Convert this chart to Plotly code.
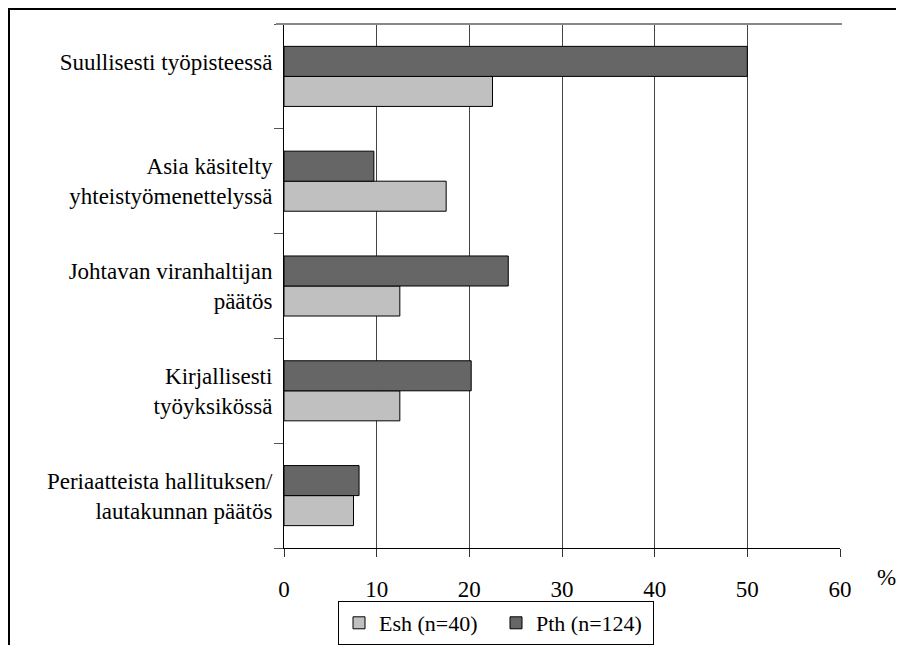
import plotly.graph_objects as go

categories = [
    "Suullisesti työpisteessä<br>\u00a0",
    "Asia käsitelty<br>yhteistyömenettelyssä",
    "Johtavan viranhaltijan<br>päätös",
    "Kirjallisesti<br>työyksikössä",
    "Periaatteista hallituksen/<br>lautakunnan päätös",
]
esh_values = [22.5, 17.5, 12.5, 12.5, 7.5]
pth_values = [50.0, 9.7, 24.2, 20.2, 8.1]
x_ticks = [0, 10, 20, 30, 40, 50, 60]

FONT = '"Liberation Serif", "Times New Roman", "DejaVu Serif", serif'
OFF = 8  # page body margin
L, R, T, B = 284 - OFF, 840 - OFF, 24 - OFF, 548 - OFF
W, H = 904 - OFF, 645 - OFF

def px(x):
    return (x - OFF - L) / (R - L)

def py(y):
    return (B - (y - OFF)) / (B - T)

order = categories[::-1]

fig = go.Figure()
fig.add_trace(go.Bar(
    y=categories, x=esh_values, orientation="h", name="Esh (n=40)",
    marker=dict(color="#c0c0c0", line=dict(color="#000000", width=1)),
))
fig.add_trace(go.Bar(
    y=categories, x=pth_values, orientation="h", name="Pth (n=124)",
    marker=dict(color="#666666", line=dict(color="#000000", width=1)),
))

fig.update_layout(
    width=W, height=H,
    margin=dict(l=L, r=W - R, t=T, b=H - B, autoexpand=False),
    paper_bgcolor="white", plot_bgcolor="white",
    barmode="group", bargap=0.427, bargroupgap=0,
    font=dict(family=FONT, size=23, color="#000000"),
    legend=dict(
        orientation="h", x=px(338), y=py(601), xanchor="left", yanchor="top",
        bordercolor="#000000", borderwidth=1, bgcolor="white",
        font=dict(family=FONT, size=22), entrywidth=112, entrywidthmode="pixels",
        itemclick=False,
    ),
    xaxis=dict(
        range=[0, 60], tickvals=x_ticks, ticktext=[str(v) for v in x_ticks],
        showgrid=True, gridcolor="#444444", gridwidth=1, zeroline=False,
        showline=True, linecolor="#000000", linewidth=1,
        ticks="outside", ticklen=8, tickcolor="#333333",
        ticklabelstandoff=12, tickfont=dict(family=FONT, size=23),
    ),
    yaxis=dict(
        categoryorder="array", categoryarray=order,
        showline=True, linecolor="#000000", linewidth=1,
        ticks="outside", ticklen=9, tickcolor="#555555", tickson="boundaries",
        showgrid=False, tickfont=dict(family=FONT, size=23), ticklabelstandoff=6,
    ),
    shapes=[
        dict(type="line", xref="paper", yref="paper", x0=px(276), x1=px(842), y0=1, y1=1,
             line=dict(color="#888888", width=2)),
        dict(type="line", xref="paper", yref="paper", x0=px(7), x1=px(905), y0=py(9), y1=py(9),
             line=dict(color="#000000", width=2)),
        dict(type="line", xref="paper", yref="paper", x0=px(9), x1=px(9), y0=py(8), y1=py(646),
             line=dict(color="#000000", width=2)),
    ],
    annotations=[
        dict(text="%", xref="paper", yref="paper", x=px(886), y=py(577), showarrow=False,
             xanchor="center", yanchor="middle", font=dict(family=FONT, size=23)),
    ],
)

fig.write_html("out.html")
